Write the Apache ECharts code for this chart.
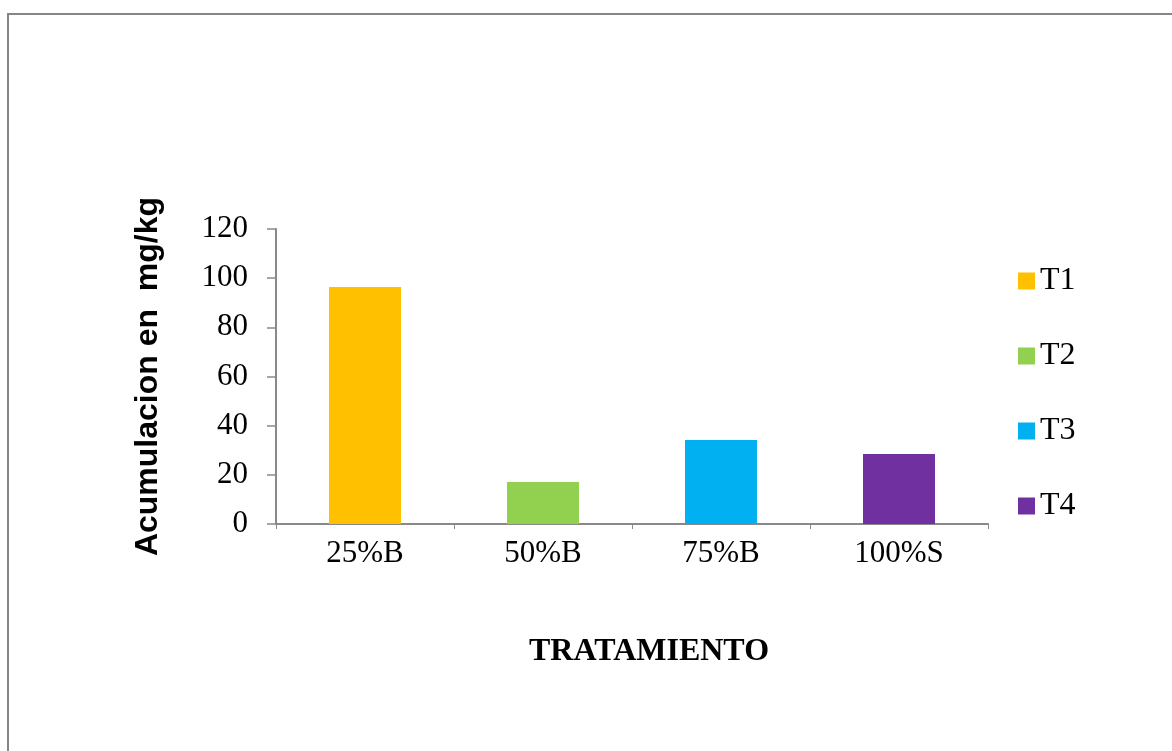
<!DOCTYPE html>
<html>
<head>
<meta charset="utf-8">
<script src="https://cdn.jsdelivr.net/npm/echarts@6/dist/echarts.min.js"></script>
<style>
html, body { margin: 0; padding: 0; background: #fff; }
#main { width: 1172px; height: 751px; }
</style>
</head>
<body>
<div id="main"></div>
<script>
// datos
var categorias = ['25%B', '50%B', '75%B', '100%S'];
var tratamientos = ['T1', 'T2', 'T3', 'T4'];
var valores = [96.4, 17.1, 34.2, 28.5];
var colores = ['#FFC000', '#92D050', '#00B0F0', '#7030A0'];

var myChart = echarts.init(document.getElementById('main'));

// una serie por tratamiento, solo con valor en su categoria
var series = [];
for (var i = 0; i < tratamientos.length; i++) {
	var d = [];
	for (var j = 0; j < categorias.length; j++) {
		d.push(i == j ? valores[j] : null);
	}
	series.push({
		name: tratamientos[i],
		type: 'bar',
		stack: 'total',
		barWidth: 72,
		itemStyle: { color: colores[i] },
		data: d
	});
}

var ejeColor = '#898989';
var serif = '"Liberation Serif", "Times New Roman", serif';

var option = {
	animation: false,
	backgroundColor: '#fff',
	graphic: [{
		type: 'rect',
		shape: { x: 8, y: 14, width: 1200, height: 800 },
		style: { fill: 'none', stroke: '#868686', lineWidth: 2 }
	}],
	title: {
		text: 'TRATAMIENTO',
		left: 644,
		top: 631,
		textAlign: 'center',
		textStyle: { fontFamily: serif, fontSize: 32, fontWeight: 'bold', color: '#000' }
	},
	legend: {
		orient: 'vertical',
		left: 1013,
		top: 260,
		icon: 'rect',
		itemWidth: 17,
		itemHeight: 17,
		itemGap: 43,
		itemTextGap: 7,
		textStyle: { fontFamily: serif, fontSize: 32, color: '#000' },
		data: tratamientos
	},
	grid: { left: 276, right: 184, top: 229, bottom: 227, containLabel: false },
	xAxis: {
		type: 'category',
		data: categorias,
		axisLine: { lineStyle: { color: ejeColor, width: 2 } },
		axisTick: { show: true, length: 5, lineStyle: { color: ejeColor, width: 1 } },
		axisLabel: { margin: 14, fontFamily: serif, fontSize: 31, color: '#000' }
	},
	yAxis: {
		type: 'value',
		min: 0,
		max: 120,
		interval: 20,
		name: 'Acumulacion en  mg/kg',
		nameLocation: 'middle',
		nameGap: 112,
		nameTextStyle: { fontFamily: '"Liberation Sans", Arial, sans-serif', fontSize: 32, fontWeight: 'bold', color: '#000' },
		axisLine: { show: true, lineStyle: { color: ejeColor, width: 2 } },
		axisTick: { show: true, length: 9, lineStyle: { color: ejeColor, width: 1.5 } },
		splitLine: { show: false },
		axisLabel: { margin: 28, fontFamily: serif, fontSize: 31, color: '#000' }
	},
	series: series
};

myChart.setOption(option);
</script>
</body>
</html>
